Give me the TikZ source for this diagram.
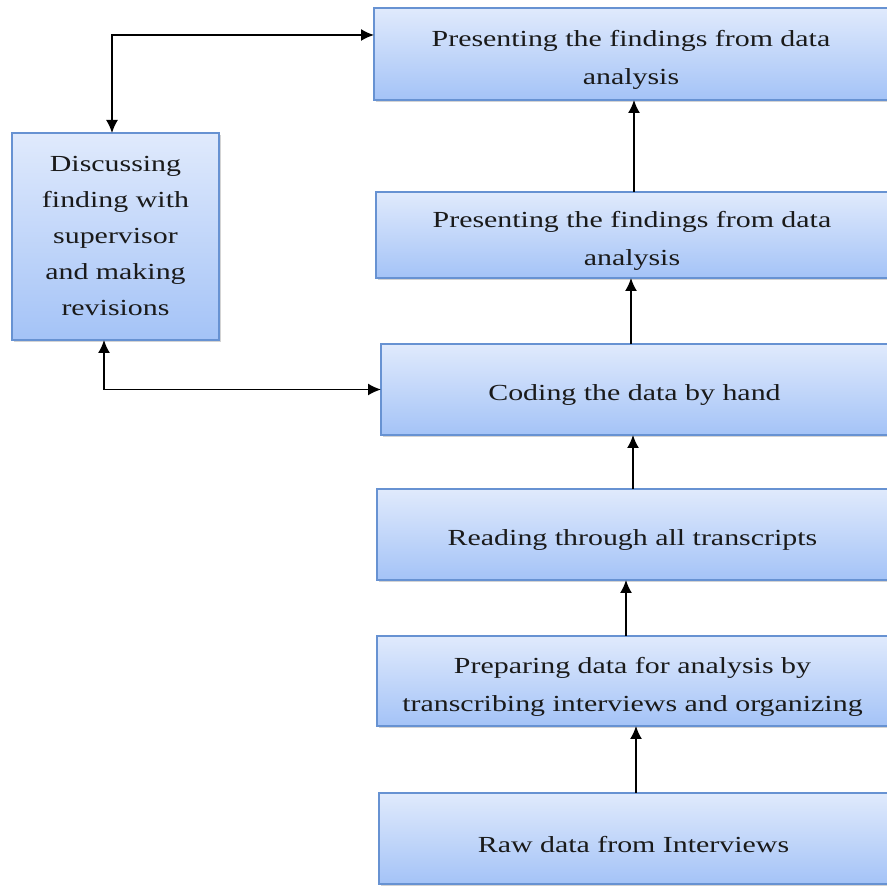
\documentclass[tikz,border=0pt]{standalone}
\usepackage{fontspec}
\setmainfont{Liberation Serif}[FakeStretch=1.3]
\usetikzlibrary{arrows.meta,shadows}
\definecolor{boxtop}{HTML}{E0EAFC}
\definecolor{boxbot}{HTML}{A4C3F7}
\definecolor{boxedge}{HTML}{6792D2}
\definecolor{txt}{HTML}{1A1A1A}
\tikzset{
  flowbox/.style={draw=boxedge, line width=1.2pt, top color=boxtop, bottom color=boxbot,
    inner sep=0pt, outer sep=0pt, align=center, text=txt,
    font=\fontsize{23}{37}\selectfont,
    drop shadow={shadow xshift=2pt, shadow yshift=-2pt, opacity=0.35, fill=black!50}},
  boxtext/.style={inner sep=0pt, align=center, text=txt, font=\fontsize{23}{38}\selectfont},
  conn/.style={line width=1.6pt, black, -{Latex[length=13pt,width=12pt]}},
  conn2/.style={line width=1.6pt, black, {Latex[length=13pt,width=12pt]}-{Latex[length=13pt,width=12pt]}}
}
\begin{document}
\begin{tikzpicture}[x=1pt,y=1pt]
\useasboundingbox (0,0) rectangle (887,886);
\begin{scope}
\clip (0,0) rectangle (887,886);
\node[flowbox, minimum width=514pt, minimum height=92pt] (b1) at (631,832) {};
\node[flowbox, minimum width=512pt, minimum height=86pt] (b2) at (632,651) {};
\node[flowbox, minimum width=507pt, minimum height=91pt] (b3) at (634.5,496.5) {};
\node[flowbox, minimum width=511pt, minimum height=91pt] (b4) at (632.5,351.5) {};
\node[flowbox, minimum width=511pt, minimum height=90pt] (b5) at (632.5,205) {};
\node[flowbox, minimum width=509pt, minimum height=91pt] (b6) at (633.5,47.5) {};
\end{scope}
\node[boxtext] (t1) at ([yshift=-6pt]b1.center) {Presenting the findings from data\\analysis};
\node[boxtext] (t2) at ([yshift=-6pt]b2.center) {Presenting the findings from data\\analysis};
\node[boxtext] (t3) at ([yshift=-6pt]b3.center) {Coding the data by hand};
\node[boxtext] (t4) at ([yshift=-6pt]b4.center) {Reading through all transcripts};
\node[boxtext] (t5) at ([yshift=-6pt]b5.center) {Preparing data for analysis by\\transcribing interviews and organizing};
\node[boxtext] (t6) at ([yshift=-6pt]b6.center) {Raw data from Interviews};
\node[flowbox, minimum width=207pt, minimum height=207pt, font=\fontsize{23}{36}\selectfont] (L) at (115.5,649.5) {Discussing\\finding with\\supervisor\\and making\\revisions};

\draw[conn] (b6.north -| 636,0) -- (b5.south -| 636,0);
\draw[conn] (b5.north -| 626,0) -- (b4.south -| 626,0);
\draw[conn] (b4.north -| 633,0) -- (b3.south -| 633,0);
\draw[conn] (b3.north -| 631,0) -- (b2.south -| 631,0);
\draw[conn] (b2.north -| 634,0) -- (b1.south -| 634,0);

\draw[conn2] (L.north -| 112,0) |- (b1.west |- 0,851);
\draw[conn2] (L.south -| 104,0) |- (b3.west);
\end{tikzpicture}
\end{document}
